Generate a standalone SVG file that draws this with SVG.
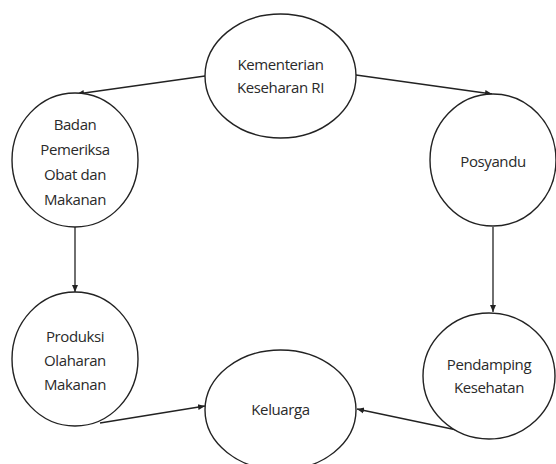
<svg xmlns="http://www.w3.org/2000/svg" width="556" height="464" viewBox="0 0 556 464">
<style>
.n ellipse{fill:#fff;stroke:#222;stroke-width:1.4}
.n text{font-family:"Open Sans","Liberation Sans",sans-serif;font-size:15px;letter-spacing:-0.4px;fill:#2a2a2a;text-anchor:middle}
.c line{stroke:#222;stroke-width:1.3;marker-end:url(#a)}
</style>
<defs>
<marker id="a" markerWidth="8" markerHeight="8" refX="7" refY="4" orient="auto" markerUnits="userSpaceOnUse">
<path d="M0,1 L7,4 L0,7 z" fill="#222"/>
</marker>
</defs>
<rect width="556" height="464" fill="#fff"/>
<g class="c">
<line x1="205" y1="76" x2="77" y2="94"/>
<line x1="356" y1="75" x2="492" y2="94"/>
<line x1="75" y1="227" x2="75" y2="292"/>
<line x1="493" y1="227" x2="493" y2="312"/>
<line x1="100" y1="423" x2="205" y2="406"/>
<line x1="490" y1="437" x2="357" y2="409"/>
</g>
<g id="kementerian" class="n"><ellipse cx="280.5" cy="76" rx="75.5" ry="62"/><text x="280.5" y="70">Kementerian</text><text x="280.5" y="93">Keseharan RI</text></g>
<g id="badan" class="n"><ellipse cx="75" cy="160" rx="63" ry="67"/><text x="75" y="130">Badan</text><text x="75" y="155">Pemeriksa</text><text x="75" y="180">Obat dan</text><text x="75" y="205">Makanan</text></g>
<g id="posyandu" class="n"><ellipse cx="493" cy="160" rx="63" ry="66"/><text x="493" y="167">Posyandu</text></g>
<g id="produksi" class="n"><ellipse cx="75" cy="359" rx="63" ry="67"/><text x="75" y="342">Produksi</text><text x="75" y="366">Olaharan</text><text x="75" y="390">Makanan</text></g>
<g id="keluarga" class="n"><ellipse cx="280.5" cy="410" rx="75.5" ry="60"/><text x="280.5" y="415">Keluarga</text></g>
<g id="pendamping" class="n"><ellipse cx="489" cy="376" rx="66" ry="63"/><text x="489" y="370">Pendamping</text><text x="489" y="393">Kesehatan</text></g>
</svg>
